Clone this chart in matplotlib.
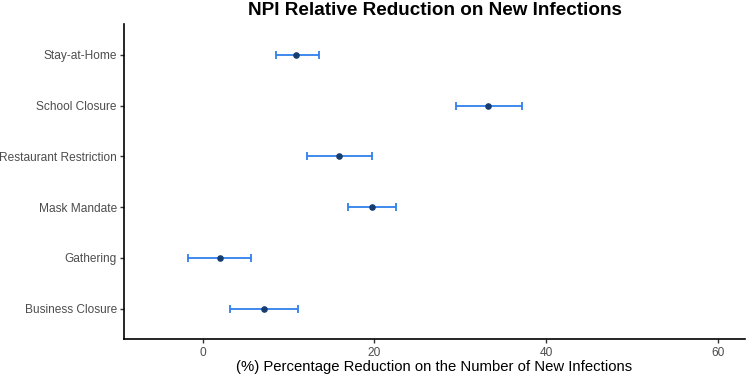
import matplotlib.pyplot as plt
import numpy as np

plt.rcParams['font.family'] = ['Liberation Sans', 'DejaVu Sans']

npis = ['Business Closure', 'Gathering', 'Mask Mandate',
        'Restaurant Restriction', 'School Closure', 'Stay-at-Home']
est = [7.15, 2.0, 19.7, 15.9, 33.2, 10.9]
lower = [3.2, -1.7, 16.9, 12.15, 29.5, 8.5]
upper = [11.1, 5.6, 22.5, 19.7, 37.2, 13.55]

est = np.array(est)
lower = np.array(lower)
upper = np.array(upper)
y = np.arange(len(npis))

fig = plt.figure(figsize=(7.46, 3.75), dpi=100)
ax = fig.add_axes([0.166, 0.096, 0.833, 0.839])

ax.errorbar(est, y, xerr=[est - lower, upper - est], fmt='none',
            ecolor='#2f80ed', elinewidth=1.3, capsize=3, capthick=1.3, zorder=2)
ax.scatter(est, y, s=14, color='#163d6e', zorder=3)

ax.set_xlim(-9.2, 63.2)
ax.set_ylim(-0.6, len(npis) - 0.4)
ax.set_xticks([0, 20, 40, 60])
ax.set_yticks(y)
ax.set_yticklabels(npis)
ax.tick_params(axis='both', labelsize=8.6, colors='#4d4d4d', length=3, width=1)
ax.tick_params(axis='both', color='#333333')
ax.tick_params(axis='y', pad=2)
ax.tick_params(axis='x', pad=2.5)
for s in ['top', 'right']:
    ax.spines[s].set_visible(False)
for s in ['left', 'bottom']:
    ax.spines[s].set_linewidth(1.2)
    ax.spines[s].set_color('black')

ax.set_xlabel('(%) Percentage Reduction on the Number of New Infections',
              fontsize=10.7, labelpad=1)
ax.set_title('NPI Relative Reduction on New Infections', fontsize=13.6,
             fontweight='bold', pad=7)

fig.savefig('out.png', dpi=100)
